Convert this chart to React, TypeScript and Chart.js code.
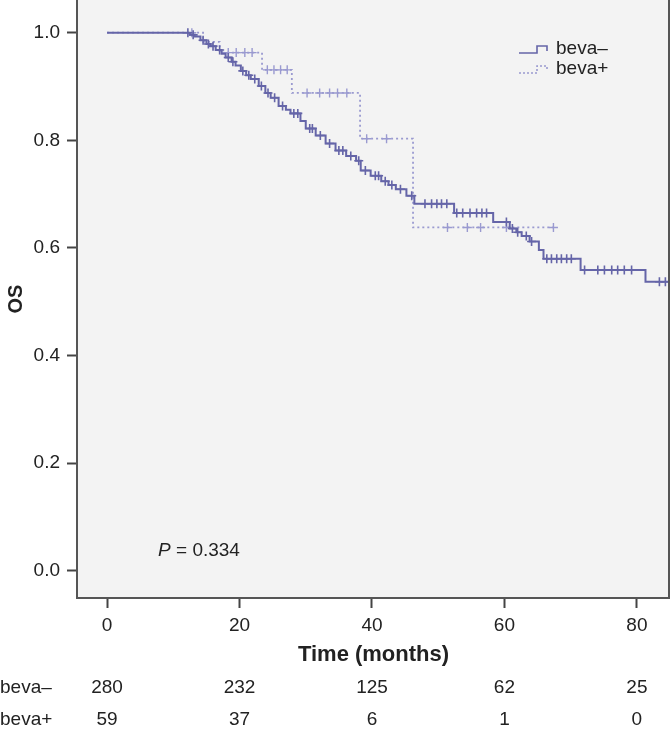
import React, { useEffect, useRef } from 'react';
import { Chart, registerables } from 'chart.js';
Chart.register(...registerables);

// ---------- data ----------
const xTickValues = [0, 20, 40, 60, 80];
const yTickValues = [0, 0.2, 0.4, 0.6, 0.8, 1.0];

const minusTimes = [12.5, 13.2, 14.1, 15.0, 15.6, 16.4, 17.3, 17.9, 18.8, 19.4, 20.2, 21.0, 21.7, 22.9, 23.9, 24.7, 25.9, 27.0, 27.7, 29.2, 30.0, 31.5, 33.0, 34.5, 36.1, 37.6, 38.3, 39.8, 41.4, 42.5, 43.6, 45.2, 46.4, 52.4, 58.3, 60.8, 61.8, 62.6, 63.8, 65.2, 65.9, 71.5, 81.3];
const minusSurv = [0.996, 0.993, 0.986, 0.979, 0.975, 0.968, 0.961, 0.954, 0.946, 0.939, 0.929, 0.921, 0.914, 0.901, 0.888, 0.879, 0.864, 0.857, 0.850, 0.836, 0.822, 0.809, 0.794, 0.781, 0.771, 0.762, 0.744, 0.734, 0.724, 0.717, 0.709, 0.697, 0.682, 0.665, 0.648, 0.636, 0.629, 0.622, 0.612, 0.596, 0.580, 0.559, 0.537];
const minusEnd = 84.9;
const minusCensor = [12.2, 13.0, 14.5, 15.3, 16.0, 17.0, 18.3, 19.0, 20.5, 21.4, 22.3, 23.3, 24.3, 25.3, 26.5, 28.2, 28.8, 30.6, 31.0, 32.2, 33.6, 35.0, 35.6, 36.8, 38.0, 39.0, 40.5, 41.0, 42.0, 43.0, 44.3, 46.0, 48.0, 49.0, 49.8, 50.5, 51.3, 52.8, 53.7, 54.8, 55.8, 56.6, 57.3, 60.3, 61.2, 62.0, 63.3, 64.1, 66.4, 67.1, 67.9, 68.6, 69.4, 70.1, 72.1, 74.1, 75.1, 76.2, 77.1, 78.1, 79.2, 83.4, 84.3];

const plusTimes = [14.5, 17.0, 23.4, 27.9, 38.2, 46.2];
const plusSurv = [0.983, 0.963, 0.931, 0.888, 0.803, 0.638];
const plusEnd = 67.4;
const plusCensor = [12.8, 18.3, 19.5, 20.8, 21.9, 24.2, 25.2, 26.2, 27.2, 30.2, 32.1, 33.6, 34.8, 36.2, 39.2, 42.2, 51.4, 54.4, 56.4, 60.3, 67.4];

const riskTimes = [0, 20, 40, 60, 80];
const riskMinus = [280, 232, 125, 62, 25];
const riskPlus = [59, 37, 6, 1, 0];
const groupLabels = ['beva\u2013', 'beva+'];

const pText = ' = 0.334';

// ---------- helpers ----------
const survAt = (times: number[], surv: number[], t: number) => {
  let s = 1;
  for (let i = 0; i < times.length; i++) if (times[i] <= t) s = surv[i];
  return s;
};
const kmPoints = (times: number[], surv: number[], end: number) => [
  { x: 0, y: 1 },
  ...times.map((t, i) => ({ x: t, y: surv[i] })),
  { x: end, y: surv[surv.length - 1] },
];
const censorPoints = (c: number[], times: number[], surv: number[]) =>
  c.map((t) => ({ x: t, y: survAt(times, surv, t) }));

const SOLID = '#6565a8';
const DOTTED = '#9a9ad0';
const FONT = '"Liberation Sans", Arial, sans-serif';
const TXT = '#222';

export default function App() {
  const ref = useRef<HTMLCanvasElement>(null);
  useEffect(() => {
    document.body.style.margin = '0';
    const canvas = ref.current!;
    const decor = {
      id: 'decor',
      beforeDraw(chart: any) {
        const { ctx, chartArea: a } = chart;
        ctx.save();
        ctx.fillStyle = '#f3f3f3';
        ctx.fillRect(a.left, a.top, a.right - a.left, a.bottom - a.top);
        ctx.restore();
      },
      afterDraw(chart: any) {
        const { ctx, chartArea: a } = chart;
        const xs = chart.scales.x;
        const ys = chart.scales.y;
        ctx.save();
        // right border
        ctx.strokeStyle = '#555';
        ctx.lineWidth = 2;
        ctx.beginPath();
        ctx.moveTo(a.right - 1, a.top);
        ctx.lineTo(a.right - 1, a.bottom);
        ctx.stroke();

        // legend
        const rows = [
          { y: 49, color: SOLID, dash: [] as number[], label: groupLabels[0] },
          { y: 69, color: DOTTED, dash: [2, 2], label: groupLabels[1] },
        ];
        rows.forEach((r) => {
          ctx.strokeStyle = r.color;
          ctx.lineWidth = 1.6;
          ctx.setLineDash(r.dash);
          ctx.beginPath();
          ctx.moveTo(519, r.y + 4);
          ctx.lineTo(537, r.y + 4);
          ctx.lineTo(537, r.y - 3);
          ctx.lineTo(547, r.y - 3);
          ctx.lineTo(547, r.y + 2);
          ctx.stroke();
          ctx.setLineDash([]);
          ctx.fillStyle = TXT;
          ctx.font = `19px ${FONT}`;
          ctx.textBaseline = 'middle';
          ctx.textAlign = 'left';
          ctx.fillText(r.label, 556, r.y);
        });

        // P value
        const px = xs.getPixelForValue(7.7);
        const py = ys.getPixelForValue(0.037);
        ctx.fillStyle = TXT;
        ctx.textBaseline = 'middle';
        ctx.textAlign = 'left';
        ctx.font = `italic 19px ${FONT}`;
        ctx.fillText('P', px, py);
        const w = ctx.measureText('P').width;
        ctx.font = `19px ${FONT}`;
        ctx.fillText(pText, px + w, py);

        // risk table
        const tableRows = [
          { y: 688, vals: riskMinus, label: groupLabels[0] },
          { y: 720, vals: riskPlus, label: groupLabels[1] },
        ];
        tableRows.forEach((r) => {
          ctx.font = `19px ${FONT}`;
          ctx.textAlign = 'left';
          ctx.fillText(r.label, 0, r.y);
          ctx.textAlign = 'center';
          r.vals.forEach((v, i) => {
            ctx.fillText(String(v), xs.getPixelForValue(riskTimes[i]), r.y);
          });
        });
        ctx.restore();
      },
    };

    const chart = new Chart(canvas, {
      type: 'line',
      data: {
        datasets: [
          {
            label: groupLabels[0],
            data: kmPoints(minusTimes, minusSurv, minusEnd),
            borderColor: SOLID,
            borderWidth: 2,
            stepped: 'before',
            pointRadius: 0,
            fill: false,
          },
          {
            label: groupLabels[0] + ' censored',
            data: censorPoints(minusCensor, minusTimes, minusSurv),
            showLine: false,
            pointStyle: 'cross',
            pointRadius: 4.5,
            pointBorderWidth: 1.6,
            pointBorderColor: SOLID,
            borderColor: SOLID,
          },
          {
            label: groupLabels[1],
            data: kmPoints(plusTimes, plusSurv, plusEnd),
            borderColor: DOTTED,
            borderWidth: 1.8,
            borderDash: [2, 3],
            stepped: 'before',
            pointRadius: 0,
            fill: false,
          },
          {
            label: groupLabels[1] + ' censored',
            data: censorPoints(plusCensor, plusTimes, plusSurv),
            showLine: false,
            pointStyle: 'cross',
            pointRadius: 4.5,
            pointBorderWidth: 1.4,
            pointBorderColor: DOTTED,
            borderColor: DOTTED,
          },
        ],
      },
      options: {
        animation: false,
        responsive: false,
        devicePixelRatio: 1,
        layout: { padding: 0, autoPadding: false },
        plugins: { legend: { display: false }, tooltip: { enabled: false } },
        scales: {
          x: {
            type: 'linear',
            min: -4.54,
            max: 85.0,
            afterBuildTicks: (s: any) => {
              s.ticks = xTickValues.map((v) => ({ value: v }));
            },
            afterFit: (s: any) => {
              s.height = 736 - 598;
              s.paddingLeft = 0;
              s.paddingRight = 0;
            },
            grid: {
              drawOnChartArea: false,
              drawTicks: true,
              tickLength: 10,
              tickColor: '#444',
              tickWidth: 2,
            },
            border: { display: true, color: '#555', width: 2 },
            ticks: {
              color: TXT,
              font: { family: FONT, size: 19 },
              padding: 6,
              maxRotation: 0,
              callback: (v: any) => String(v),
            },
            title: {
              display: true,
              text: 'Time (months)',
              color: TXT,
              font: { family: FONT, size: 22, weight: 'bold' },
              padding: { top: 0, bottom: 68 },
            },
          },
          y: {
            type: 'linear',
            min: -0.0507,
            max: 1.0608,
            afterBuildTicks: (s: any) => {
              s.ticks = yTickValues.map((v) => ({ value: v }));
            },
            afterFit: (s: any) => {
              s.width = 77;
              s.paddingTop = 0;
              s.paddingBottom = 0;
            },
            grid: {
              drawOnChartArea: false,
              drawTicks: true,
              tickLength: 10,
              tickColor: '#444',
              tickWidth: 2,
            },
            border: { display: true, color: '#555', width: 2 },
            ticks: {
              color: TXT,
              font: { family: FONT, size: 19 },
              padding: 7,
              callback: (v: any) => Number(v).toFixed(1),
            },
            title: {
              display: true,
              text: 'OS',
              color: TXT,
              font: { family: FONT, size: 20, weight: 'bold' },
              padding: { top: 4, bottom: 0 },
            },
          },
        },
      },
      plugins: [decor],
    } as any);
    return () => chart.destroy();
  }, []);
  return (
    <div style={{ width: 670, height: 736 }}>
      <canvas ref={ref} width={670} height={736} style={{ display: 'block' }} />
    </div>
  );
}
